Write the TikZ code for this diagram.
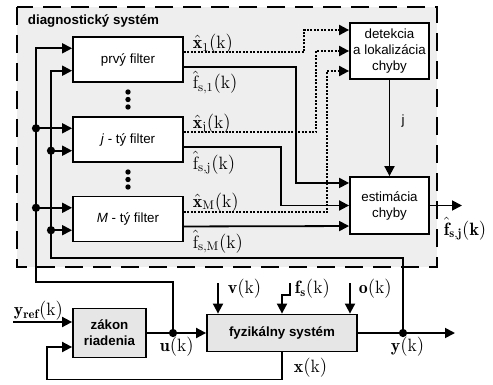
\documentclass[tikz,border=0pt]{standalone}
\usepackage{fontspec}
\setsansfont{Liberation Sans}
\usetikzlibrary{arrows.meta}
\definecolor{regiongray}{HTML}{EEEEEE}
\definecolor{boxgray}{HTML}{E6E6E6}
\begin{document}
\begin{tikzpicture}[x=0.75pt,y=-0.75pt,line width=1.35pt,
  arr/.style={-{Triangle[length=7.5pt,width=7.5pt]}},
  dotl/.style={line width=1.5pt,dash pattern=on 1.5pt off 1.1pt},
  filt/.style={draw,fill=white,font=\sffamily,minimum width=82.5pt,minimum height=33.75pt,inner sep=1pt},
  blk/.style={draw,fill=white,font=\sffamily,align=center,minimum width=59.25pt,inner sep=1pt},
  plant/.style={draw,fill=boxgray,font=\sffamily\bfseries,align=center,inner sep=1pt},
  junc/.style={circle,fill,inner sep=0pt,minimum size=6.2pt},
  lbl/.style={font=\fontsize{13.4}{16}\selectfont,inner sep=0pt}]
\useasboundingbox (0,0) rectangle (493,385);

% diagnostic subsystem region
\fill[regiongray] (17,7) rectangle (437,267);
\draw[line width=1.5pt,dash pattern=on 13.5pt off 7.5pt] (17,7) rectangle (437,267);
\node[font=\sffamily\bfseries,anchor=west,inner sep=0pt] (title) at (27,21) {diagnostický systém};

% filter bank
\node[filt] (f1) at (128,59.5) {prvý filter};
\node[filt] (fj) at (128,139.5) {\textit{j} - tý filter};
\node[filt] (fm) at (128,219) {\textit{M} - tý filter};
\foreach \yy in {92,99.5,107,172,179.5,187}
  \fill (128,\yy) circle[radius=2pt];

% fault detection / estimation blocks
\node[blk,minimum height=42pt] (det) at (389.5,51) {detekcia\\a lokalizácia\\chyby};
\node[blk,minimum height=42.75pt] (est) at (389.5,205.5) {estimácia\\chyby};

% controlled loop
\node[plant,minimum width=54.75pt,minimum height=36.75pt] (zak) at (109.5,333) {zákon\\riadenia};
\node[plant,minimum width=112.5pt,minimum height=27.75pt] (fyz) at (282,333) {fyzikálny systém};

% filter ports
\foreach \f in {f1,fj,fm}{
  \coordinate (\f a) at ([yshift=8.4pt]\f.west);
  \coordinate (\f b) at ([yshift=-8.4pt]\f.west);
  \coordinate (\f x) at ([yshift=5.25pt]\f.east);
  \coordinate (\f f) at ([yshift=-5.6pt]\f.east);
}
\coordinate (d1) at ([yshift=15.75pt]det.west);
\coordinate (d2) at (det.west);
\coordinate (d3) at ([yshift=-15pt]det.west);
\coordinate (e1) at ([yshift=16.9pt]est.west);
\coordinate (e2) at (est.west);
\coordinate (e3) at ([yshift=-15.4pt]est.west);
\coordinate (z1) at ([yshift=8.25pt]zak.west);
\coordinate (z2) at ([yshift=-10.5pt]zak.west);

% bus lines
\coordinate (ob) at (36,282);
\coordinate (ib) at (51,258);
\node[junc] (uj) at (173,333) {};
\node[junc] (yj) at (403,333) {};
\draw[arr] (uj.center) |- (ob) |- (f1a);
\draw[arr] (yj.center) |- (ib) |- (f1b);
\node[junc] (dja) at (fja -| ob) {};
\node[junc] (dma) at (fma -| ob) {};
\node[junc] (djb) at (fjb -| ib) {};
\node[junc] (dmb) at (fmb -| ib) {};
\draw[arr] (dja.center) -- (fja);
\draw[arr] (dma.center) -- (fma);
\draw[arr] (djb.center) -- (fjb);
\draw[arr] (dmb.center) -- (fmb);

% state estimates to detection
\draw[dotl,arr] (f1x) -| ([xshift=-33.75pt]d1) -- (d1);
\draw[dotl,arr] (fjx) -| ([xshift=-24.75pt]d2) -- (d2);
\draw[dotl,arr] (fmx) -| ([xshift=-16.5pt]d3) -- (d3);

% fault estimates to estimation
\draw[arr] (f1f) -| ([xshift=-39.75pt]e1) -- (e1);
\draw[arr] (fjf) -| ([xshift=-51pt]e2) -- (e2);
\draw[arr] (fmf) -- (e3);

\draw[arr] (det.south) -- (est.north);
\node[font=\sffamily,inner sep=0pt] (jl) at (403,121) {j};
\coordinate (fout) at (462,205.5);
\draw[arr] (est.east) -- (fout);

% labels of filter outputs
\node[lbl,anchor=base west] at (192,49) {$\hat{\mathbf{x}}_{1}(\mathrm{k})$};
\node[lbl,anchor=base west] at (192,128) {$\hat{\mathbf{x}}_{\mathrm{j}}(\mathrm{k})$};
\node[lbl,anchor=base west] at (192,207) {$\hat{\mathbf{x}}_{\mathrm{M}}(\mathrm{k})$};
\node[lbl,anchor=base west] at (192,89) {$\hat{\mathrm{f}}_{\mathrm{s},1}(\mathrm{k})$};
\node[lbl,anchor=base west] at (192,169) {$\hat{\mathrm{f}}_{\mathrm{s},\mathrm{j}}(\mathrm{k})$};
\node[lbl,anchor=base west] at (192,248) {$\hat{\mathrm{f}}_{\mathrm{s},\mathrm{M}}(\mathrm{k})$};
\node[lbl,anchor=west] at (443,229) {$\hat{\mathbf{f}}_{\mathbf{s},\mathbf{j}}(\mathbf{k})$};

% control loop connections
\coordinate (yref) at (13,322);
\draw[arr] (yref) -- (z1);
\draw[arr] (zak.east) -- (fyz.west);
\coordinate (yout) at (455,333);
\draw[arr] (fyz.east) -- (yout);
\draw[arr] (fyz.south) -- ++(0,27) -| ([xshift=-18.75pt]z2) -- (z2);
\coordinate (vin) at (218,283);
\coordinate (fsin) at (290,283);
\coordinate (oin) at (350,283);
\draw[arr] (vin) -- (vin |- fyz.north);
\draw[arr] (fsin) -- ++(0,12) -| (fyz.north);
\draw[arr] (oin) -- (oin |- fyz.north);

\node[lbl,anchor=west] at (13,311) {$\mathbf{y}_{\mathbf{ref}}(\mathrm{k})$};
\node[lbl,anchor=west] at (159,347) {$\mathbf{u}(\mathrm{k})$};
\node[lbl,anchor=west] at (227,289) {$\mathbf{v}(\mathrm{k})$};
\node[lbl,anchor=west] at (294,289) {$\mathbf{f}_{\mathbf{s}}(\mathrm{k})$};
\node[lbl,anchor=west] at (358,289) {$\mathbf{o}(\mathrm{k})$};
\node[lbl,anchor=west] at (390,347) {$\mathbf{y}(\mathrm{k})$};
\node[lbl,anchor=west] at (293,368) {$\mathbf{x}(\mathrm{k})$};
\end{tikzpicture}
\end{document}
